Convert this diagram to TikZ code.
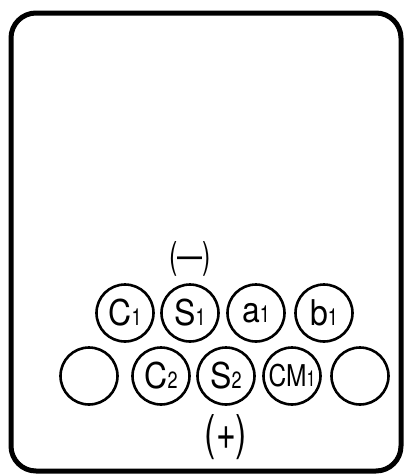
\documentclass[tikz,border=0pt]{standalone}
\usepackage{graphicx}
\usepackage{fontspec}
\setmainfont{TeX Gyre Heros}
\newcommand{\pinlab}[2]{\makebox[0pt][c]{\scalebox{3.2}[3.55]{#1}\scalebox{1.8}[2.35]{#2}}}
\newcommand{\pinlabsm}[2]{\makebox[0pt][c]{\scalebox{2.45}[3.0]{#1}\scalebox{1.6}[2.2]{#2}}}
\begin{document}
\begin{tikzpicture}[x=1pt,y=-1pt,
  pin/.style={circle,draw,line width=2.6pt,minimum size=57pt,inner sep=0pt},
  frame/.style={draw,line width=5pt,rounded corners=25pt},
  sign/.style={inner sep=0pt}]
\useasboundingbox (0,0) rectangle (407,475);
\draw[frame] (11,13) rectangle (401,471);
% top row
\node[pin] (c1) at (125,313) {\pinlab{C}{1}};
\node[pin] (s1) at (190,313) {\pinlab{S}{1}};
\node[pin] (a1) at (256,313) {\pinlab{a}{1}};
\node[pin] (b1) at (324,313) {\pinlab{b}{1}};
% bottom row
\node[pin] (e1) at (89,376) {};
\node[pin] (c2) at (161,376) {\pinlab{C}{2}};
\node[pin] (s2) at (226,376) {\pinlab{S}{2}};
\node[pin] (cm1) at (292,376) {\pinlabsm{CM}{1}};
\node[pin] (e2) at (360,376) {};
\node[sign] (minus) at (190,259) {\scalebox{2.5}[3.7]{(---)}};
\node[sign] (plus) at (226,437) {\scalebox{3.4}[4.8]{(+)}};
\end{tikzpicture}
\end{document}
